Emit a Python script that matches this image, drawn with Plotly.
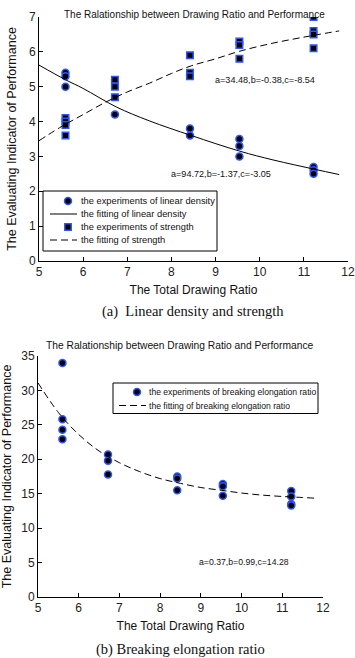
import plotly.graph_objects as go

# ---------------- data (a) ----------------
ld_x = [5.6, 5.6, 5.6, 6.72, 8.42, 8.42, 9.54, 9.54, 9.54, 11.22, 11.22, 11.22]
ld_y = [5.4, 5.3, 5.0, 4.2, 3.8, 3.6, 3.5, 3.3, 3.0, 2.7, 2.6, 2.5]

st_x = [5.6, 5.6, 5.6, 5.6, 6.72, 6.72, 6.72, 8.42, 8.42, 8.42, 9.54, 9.54, 9.54, 11.22, 11.22, 11.22, 11.22]
st_y = [4.1, 4.0, 3.9, 3.6, 5.2, 5.0, 4.7, 5.9, 5.4, 5.3, 6.3, 6.2, 5.8, 7.0, 6.6, 6.5, 6.1]

ld_fit_x = [5.0, 5.6, 6.0, 6.75, 7.5, 8.45, 9.55, 10.3, 11.25, 11.8]
ld_fit_y = [5.62, 5.2, 4.95, 4.42, 4.02, 3.6, 3.15, 2.9, 2.63, 2.48]

st_fit_x = [5.0, 5.5, 6.0, 6.5, 7.0, 7.5, 8.0, 8.45, 9.0, 9.55, 10.3, 11.25, 11.8]
st_fit_y = [3.45, 3.85, 4.2, 4.55, 4.85, 5.1, 5.38, 5.6, 5.8, 6.02, 6.25, 6.48, 6.6]

# ---------------- data (b) ----------------
be_x = [5.6, 5.6, 5.6, 5.6, 6.72, 6.72, 6.72, 8.42, 8.42, 8.42, 9.54, 9.54, 9.54, 11.22, 11.22, 11.22, 11.22]
be_y = [34.0, 25.8, 24.3, 22.9, 20.7, 19.8, 17.8, 17.5, 17.2, 15.5, 16.4, 16.1, 14.7, 15.4, 14.6, 13.5, 13.3]

be_fit_x = [5.0, 5.5, 6.0, 6.5, 7.0, 7.5, 8.0, 8.5, 9.0, 9.5, 10.0, 10.5, 11.0, 11.5, 11.8]
be_fit_y = [31.1, 26.8, 23.6, 21.2, 19.5, 18.2, 17.2, 16.5, 15.9, 15.5, 15.1, 14.8, 14.6, 14.45, 14.35]

x_ticks = [5, 6, 7, 8, 9, 10, 11, 12]
y_ticks_a = [0, 1, 2, 3, 4, 5, 6, 7]
y_ticks_b = [0, 5, 10, 15, 20, 25, 30, 35]

legend_a = ["the experiments of linear density", "the fitting of linear density",
            "the experiments of strength", "the fitting of strength"]
legend_b = ["the experiments of breaking elongation ratio", "the fitting of breaking elongation ratio"]

TITLE = "The Ralationship between Drawing Ratio and Performance"
XT = "The Total Drawing Ratio"
YT = "The Evaluating Indicator of Performance"

BLUE = "rgb(45,85,255)"
W, H = 355, 658
FONT = "Liberation Sans, Arial"


def px(x):
    return x / W


def py(y):
    return 1 - y / H


fig = go.Figure()

circle_marker = dict(symbol="circle", size=7, color="black", line=dict(color=BLUE, width=1.5))
square_marker = dict(symbol="square", size=6.5, color="black", line=dict(color=BLUE, width=1.5))
DASH = "7px,4px"

fig.add_trace(go.Scatter(x=ld_x, y=ld_y, mode="markers", name=legend_a[0], marker=circle_marker,
                         xaxis="x", yaxis="y"))
fig.add_trace(go.Scatter(x=ld_fit_x, y=ld_fit_y, mode="lines", name=legend_a[1],
                         line=dict(color="black", width=1, shape="spline"), xaxis="x", yaxis="y"))
fig.add_trace(go.Scatter(x=st_x, y=st_y, mode="markers", name=legend_a[2], marker=square_marker,
                         xaxis="x", yaxis="y"))
fig.add_trace(go.Scatter(x=st_fit_x, y=st_fit_y, mode="lines", name=legend_a[3],
                         line=dict(color="black", width=1, dash=DASH, shape="spline"), xaxis="x", yaxis="y"))
fig.add_trace(go.Scatter(x=be_x, y=be_y, mode="markers", name=legend_b[0], marker=circle_marker,
                         xaxis="x2", yaxis="y2"))
fig.add_trace(go.Scatter(x=be_fit_x, y=be_fit_y, mode="lines", name=legend_b[1],
                         line=dict(color="black", width=1, dash=DASH, shape="spline"), xaxis="x2", yaxis="y2"))

axis_common = dict(showline=True, linecolor="black", linewidth=1, ticks="inside", ticklen=4,
                   tickcolor="black", showgrid=False, zeroline=False, mirror=False,
                   tickfont=dict(family=FONT, size=12, color="#222"))
xtitle_font = dict(family=FONT, size=12, color="#111")
ytitle_font = dict(family=FONT, size=12.5, color="#111")

fig.update_layout(
    width=W, height=H, margin=dict(l=0, r=0, t=0, b=0, autoexpand=False),
    paper_bgcolor="white", plot_bgcolor="white", showlegend=False,
    xaxis=dict(domain=[px(39), px(348)], range=[5, 12], tickvals=x_ticks, anchor="y",
               title=dict(text=XT, font=xtitle_font, standoff=7), **axis_common),
    yaxis=dict(domain=[py(261), py(17)], range=[0, 7], tickvals=y_ticks_a, anchor="x",
               title=dict(text=YT, font=ytitle_font, standoff=9), **axis_common),
    xaxis2=dict(domain=[px(38), px(323)], range=[5, 12], tickvals=x_ticks, anchor="y2",
                title=dict(text=XT, font=xtitle_font, standoff=7), **axis_common),
    yaxis2=dict(domain=[py(597), py(356)], range=[0, 35], tickvals=y_ticks_b, anchor="x2",
                title=dict(text=YT, font=ytitle_font, standoff=9), **axis_common),
)

fig.add_annotation(x=10.12, y=5.19, xref="x", yref="y", text="a=34.48,b=-0.38,c=-8.54",
                   showarrow=False, font=dict(family=FONT, size=9.1, color="#111"))
fig.add_annotation(x=9.13, y=2.49, xref="x", yref="y", text="a=94.72,b=-1.37,c=-3.05",
                   showarrow=False, font=dict(family=FONT, size=9.1, color="#111"))
fig.add_annotation(x=10.07, y=5.08, xref="x2", yref="y2", text="a=0.37,b=0.99,c=14.28",
                   showarrow=False, font=dict(family=FONT, size=8.7, color="#111"))

# plot titles
fig.add_annotation(x=px(194), y=py(7), xref="paper", yref="paper", text=TITLE, showarrow=False,
                   font=dict(family=FONT, size=10, color="#111"))
fig.add_annotation(x=px(180), y=py(345), xref="paper", yref="paper", text=TITLE, showarrow=False,
                   font=dict(family=FONT, size=10.25, color="#111"))

# captions
cap_font = dict(family="Liberation Serif, Times New Roman", size=14.5, color="#111")
fig.add_annotation(x=px(193), y=py(312), xref="paper", yref="paper",
                   text="(a)  Linear density and strength", showarrow=False, font=cap_font)
fig.add_annotation(x=px(180), y=0, xref="paper", yref="paper", yanchor="bottom", yshift=-2,
                   text="(b) Breaking elongation ratio", showarrow=False, font=cap_font)


# ---------------- legends (MATLAB-style boxes) ----------------
def legend_box(x0, y0, x1, y1, mx, lx0, lx1, tx, rows, fsize):
    fig.add_shape(type="rect", xref="paper", yref="paper", x0=px(x0), x1=px(x1), y0=py(y1), y1=py(y0),
                  line=dict(color="black", width=1), fillcolor="white", layer="above")
    for kind, yy, label in rows:
        if kind == "circle":
            fig.add_shape(type="circle", xref="paper", yref="paper", x0=px(mx - 3.5), x1=px(mx + 3.5),
                          y0=py(yy + 3.5), y1=py(yy - 3.5), fillcolor="black",
                          line=dict(color=BLUE, width=1.5), layer="above")
        elif kind == "square":
            fig.add_shape(type="rect", xref="paper", yref="paper", x0=px(mx - 3.2), x1=px(mx + 3.2),
                          y0=py(yy + 3.2), y1=py(yy - 3.2), fillcolor="black",
                          line=dict(color=BLUE, width=1.5), layer="above")
        else:
            fig.add_shape(type="line", xref="paper", yref="paper", x0=px(lx0), x1=px(lx1),
                          y0=py(yy), y1=py(yy),
                          line=dict(color="black", width=1, dash=("solid" if kind == "solid" else DASH)),
                          layer="above")
        fig.add_annotation(x=px(tx), y=py(yy), xref="paper", yref="paper", text=label, showarrow=False,
                           xanchor="left", yanchor="middle", font=dict(family=FONT, size=fsize, color="#111"))


legend_box(43, 191, 217, 251, 68, 50, 77, 79,
           [("circle", 201, legend_a[0]), ("solid", 214, legend_a[1]),
            ("square", 227, legend_a[2]), ("dash", 240, legend_a[3])], 9.3)
legend_box(113, 383, 318, 413.5, 137, 119, 146, 147,
           [("circle", 392, legend_b[0]), ("dash", 405.5, legend_b[1])], 8.6)

fig.write_html("out.html", config={"displayModeBar": False},
               post_script="document.body.style.margin='0px';")
